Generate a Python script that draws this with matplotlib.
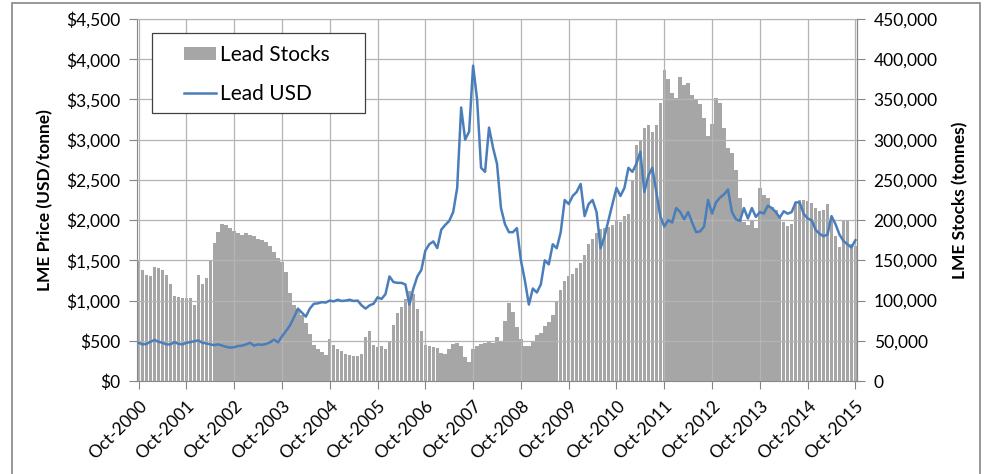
import matplotlib.pyplot as plt
from matplotlib.patches import Rectangle
from matplotlib.ticker import FuncFormatter
import numpy as np

plt.rcParams["font.family"] = ["Lato", "DejaVu Sans"]

# x axis: one value per month, Oct-2000 .. Oct-2015
tick_labels = [f"Oct-{y}" for y in range(2000, 2016)]

# LME lead stocks, thousand tonnes (monthly)
stocks_kt = [
    150, 138, 132, 130, 142, 140, 138, 132, 120, 106, 104, 103, 103, 103, 95, 132,
    120, 128, 150, 172, 185, 195, 194, 190, 186, 184, 182, 184, 182, 180, 176,
    175, 173, 168, 160, 153, 148, 135, 110, 95, 89, 82, 72, 58, 45, 40,
    36, 32, 52, 45, 40, 37, 34, 32, 31, 31, 33, 55, 62, 45, 42,
    44, 40, 50, 70, 84, 92, 102, 112, 108, 90, 62, 45, 44, 42, 41,
    35, 33, 40, 46, 47, 43, 30, 24, 40, 44, 46, 47, 48, 47, 55,
    50, 75, 97, 86, 67, 52, 44, 44, 50, 57, 60, 68, 73, 82, 100,
    113, 124, 130, 133, 140, 147, 157, 170, 176, 184, 189, 190, 191, 194, 200,
    198, 205, 207, 250, 293, 300, 314, 318, 310, 318, 345, 386, 375, 358, 352,
    378, 368, 370, 355, 349, 344, 327, 305, 320, 352, 345, 315, 290, 283, 262,
    228, 198, 194, 200, 190, 240, 231, 228, 216, 212, 206, 198, 193, 195, 222,
    225, 225, 224, 221, 215, 211, 213, 220, 200, 180, 166, 200, 200, 170, 168,
]

# LME lead price, USD/tonne (monthly)
price_usd = [
    475, 455, 462, 487, 510, 487, 475, 455, 455, 483, 462, 455, 475, 483, 495, 504,
    475, 467, 455, 446, 455, 440, 425, 415, 420, 435, 440, 455, 475, 440, 455,
    450, 460, 480, 515, 480, 555, 620, 690, 790, 900, 850, 800, 900, 960, 965,
    980, 975, 1000, 990, 1010, 995, 1000, 1010, 995, 1000, 940, 900, 940, 960, 1040,
    1020, 1080, 1300, 1230, 1220, 1220, 1200, 950, 1150, 1300, 1380, 1620, 1700, 1735, 1652,
    1880, 1940, 1990, 2100, 2400, 3400, 3000, 3100, 3920, 3500, 2650, 2600, 3150, 2900, 2700,
    2150, 1950, 1850, 1850, 1900, 1500, 1250, 950, 1150, 1100, 1200, 1500, 1450, 1700, 1650,
    1850, 2250, 2200, 2300, 2350, 2450, 2050, 2200, 2250, 2100, 1650, 1800, 2000, 2200, 2400,
    2300, 2400, 2650, 2600, 2700, 2850, 2350, 2550, 2650, 2350, 2050, 1920, 2000, 1970, 2150,
    2100, 2010, 2100, 1970, 1850, 1860, 1920, 2250, 2080, 2220, 2280, 2320, 2380, 2100, 2010,
    1990, 2150, 2020, 2150, 2040, 2100, 2080, 2180, 2150, 2100, 2030, 2110, 2080, 2100, 2220,
    2220, 2080, 2020, 2000, 1880, 1830, 1800, 1820, 2050, 1950, 1820, 1740, 1700, 1660, 1750,
]

months = np.arange(len(price_usd))
stocks = np.array(stocks_kt) * 1000

axis_grey = "#868686"

fig = plt.figure(figsize=(9.91, 4.74), dpi=100)
ax = fig.add_axes([137 / 991, 1 - 381 / 474, 720 / 991, 362 / 474])
ax2 = ax.twinx()

# bars on the right axis, price line on top
bars = ax2.bar(months, stocks, width=0.88, color="#A6A6A6", linewidth=0)
ax.set_zorder(ax2.get_zorder() + 1)
ax.patch.set_visible(False)
line, = ax.plot(months, price_usd, color="#4A7EBB", lw=1.8, zorder=3)

ax.set_xlim(-0.4, 180.4)
ax.set_ylim(0, 4500)
ax2.set_ylim(0, 450000)
ax.set_yticks(np.arange(0, 4501, 500))
ax2.set_yticks(np.arange(0, 450001, 50000))
ax.yaxis.set_major_formatter(FuncFormatter(lambda v, p: f"${v:,.0f}"))
ax2.yaxis.set_major_formatter(FuncFormatter(lambda v, p: f"{v:,.0f}"))

ax.set_xticks(np.arange(0, 181, 12))
ax.set_xticklabels(tick_labels, rotation=45, ha="right", rotation_mode="anchor")

ax.grid(True, color="#B4B4B4", lw=0.9, zorder=1)
ax.set_axisbelow(False)

for a in (ax, ax2):
    for s in a.spines.values():
        s.set_color(axis_grey)
        s.set_linewidth(0.8)
    a.tick_params(length=6, width=0.8, color=axis_grey, labelsize=12.5, pad=6)
for s in ("left", "top", "bottom"):
    ax2.spines[s].set_visible(False)

fig.text(45 / 991, 1 - 200 / 474, "LME Price (USD/tonne)", rotation=90,
         ha="center", va="center", fontsize=12.5, fontweight="bold")
fig.text(960 / 991, 1 - 200 / 474, "LME Stocks (tonnes)", rotation=90,
         ha="center", va="center", fontsize=12.5, fontweight="bold")

# legend: frameless entries inside a hand-placed box
fig.add_artist(Rectangle((152 / 991, 1 - 113 / 474), 213 / 991, 80 / 474,
                         transform=fig.transFigure, facecolor="white",
                         edgecolor="#404040", lw=0.9, zorder=4))
leg = fig.legend([bars, line], ["Lead Stocks", "Lead USD"], loc="upper left",
                 bbox_to_anchor=(184 / 991, 1 - 45 / 474),
                 frameon=False, fontsize=15, borderpad=0, borderaxespad=0,
                 handlelength=1.55, handleheight=0.6, labelspacing=0.9, handletextpad=0.2)
leg.set_zorder(5)

# chart border (cut off at the bottom as in the source)
fig.add_artist(Rectangle((12 / 991, -0.05), 968 / 991, 1.05 - 3 / 474,
                         transform=fig.transFigure, fill=False,
                         edgecolor=axis_grey, lw=1.2))

plt.savefig("out.png", dpi=100)
plt.close()
